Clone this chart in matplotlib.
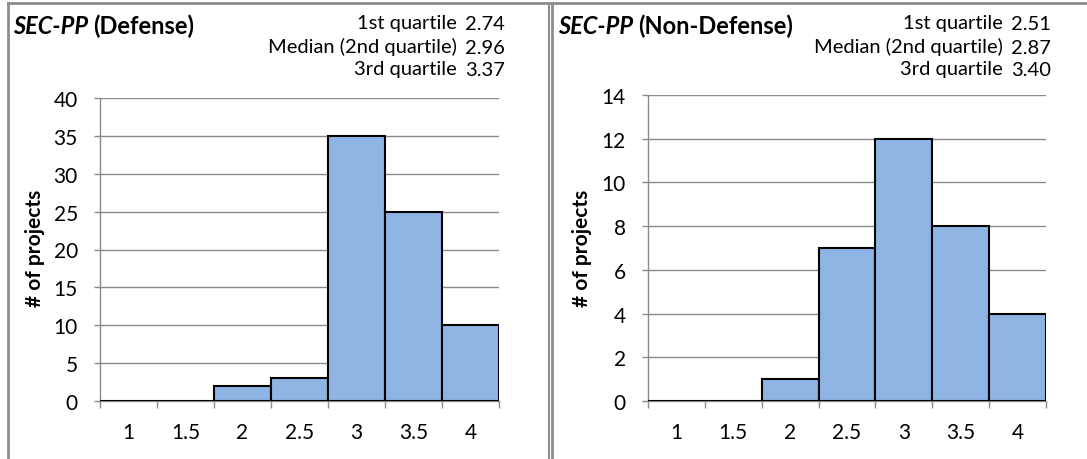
import matplotlib.pyplot as plt
import numpy as np

plt.rcParams['font.family'] = ['Lato', 'DejaVu Sans']

bins = ['1', '1.5', '2', '2.5', '3', '3.5', '4']
defense = [0, 0, 2, 3, 35, 25, 10]
nondefense = [0, 0, 1, 7, 12, 8, 4]
q_labels = ['1st quartile', 'Median (2nd quartile)', '3rd quartile']
q_defense = ['2.74', '2.96', '3.37']
q_nondefense = ['2.51', '2.87', '3.40']

bar_col = '#8EB4E3'
grid_col = '#8A8A8A'
W, H = 1087, 460

fig = plt.figure(figsize=(W / 100, H / 100), dpi=100)


def draw_panel(ax, counts, ymax, ystep):
    x = np.arange(len(bins))
    ax.bar(x, counts, width=1.0, color=bar_col, edgecolor='black', linewidth=1.5, zorder=3)
    ax.set_xlim(-0.5, len(bins) - 0.5)
    ax.set_ylim(0, ymax)
    ax.set_yticks(np.arange(0, ymax + 0.01, ystep))
    ax.set_xticks(x)
    ax.set_xticklabels(bins)
    ax.set_xticks(np.arange(-0.5, len(bins)), minor=True)
    ax.tick_params(axis='x', which='major', length=0, pad=15, labelsize=15)
    ax.tick_params(axis='x', which='minor', length=5, width=1, color=grid_col, direction='out')
    ax.tick_params(axis='y', length=4, width=1, color=grid_col, pad=12, labelsize=15)
    ax.yaxis.grid(True, color=grid_col, linewidth=1, zorder=0)
    ax.set_axisbelow(True)
    for s in ['top', 'right']:
        ax.spines[s].set_visible(False)
    for s in ['left', 'bottom']:
        ax.spines[s].set_color(grid_col)
        ax.spines[s].set_linewidth(1)


def fx(px):
    return px / W


def fy(py):
    return 1 - py / H


ax1 = fig.add_axes([fx(100), fy(402), fx(499 - 100), fy(99) - fy(402)])
draw_panel(ax1, defense, 40, 5)
ax2 = fig.add_axes([fx(648), fy(402), fx(1046 - 648), fy(96) - fy(402)])
draw_panel(ax2, nondefense, 14, 2)

for xl, name, lab_x, qvals, ylab_x in [(13, '(Defense)', 457, q_defense, 35),
                                        (558, '(Non-Defense)', 1003, q_nondefense, 582)]:
    t = fig.text(fx(xl), fy(26), 'SEC-PP', fontsize=17, fontweight='bold', style='italic',
                 va='center', ha='left')
    fig.canvas.draw()
    bb = t.get_window_extent()
    fig.text(bb.x1 / W + fx(5), fy(26), name, fontsize=17, fontweight='bold',
             va='center', ha='left')
    for i, (lab, val) in enumerate(zip(q_labels, qvals)):
        yy = [24, 47, 70][i]
        fig.text(fx(lab_x), fy(yy), lab, fontsize=14.5, ha='right', va='center')
        fig.text(fx(lab_x + 8), fy(yy + 1), val, fontsize=14.5, ha='left', va='center')
    fig.text(fx(ylab_x), fy(248), '# of projects', fontsize=15, fontweight='bold',
             rotation=90, ha='center', va='center')

# panel borders
border = '#8C8C8C'
fig.add_artist(plt.Line2D([fx(8), fx(1087)], [fy(4), fy(4)], color=border, lw=2))
fig.add_artist(plt.Line2D([fx(8), fx(8)], [fy(4), 0], color=border, lw=2))
fig.add_artist(plt.Line2D([fx(549), fx(549)], [fy(4), 0], color=border, lw=1.5))
fig.add_artist(plt.Line2D([fx(552), fx(552)], [fy(4), 0], color=border, lw=2))

fig.savefig('out.png', dpi=100)
